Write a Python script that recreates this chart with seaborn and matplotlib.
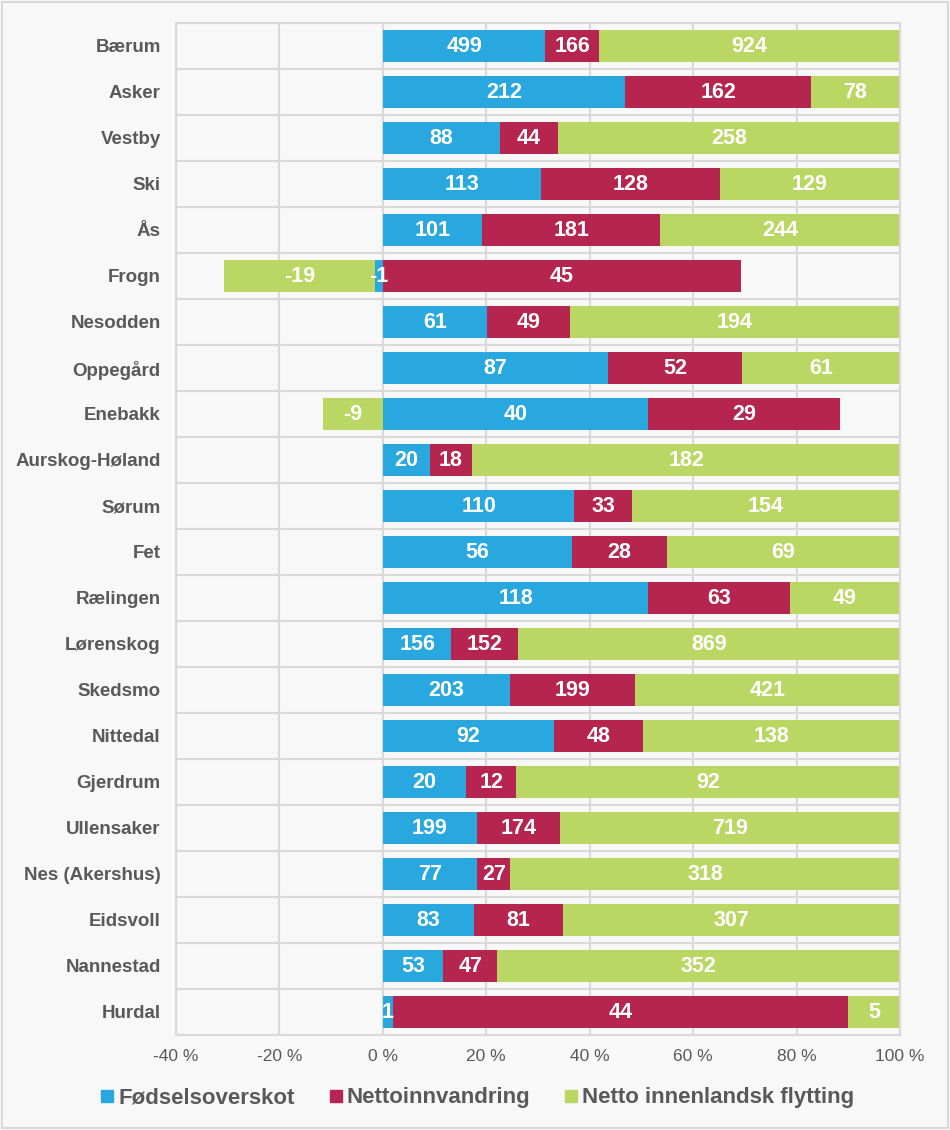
import numpy as np
import pandas as pd
import matplotlib
matplotlib.use("Agg")
import matplotlib.pyplot as plt
import seaborn as sns
from matplotlib.patches import Rectangle
from matplotlib.lines import Line2D

categories = ["Bærum", "Asker", "Vestby", "Ski", "Ås", "Frogn", "Nesodden", "Oppegård",
              "Enebakk", "Aurskog-Høland", "Sørum", "Fet", "Rælingen", "Lørenskog",
              "Skedsmo", "Nittedal", "Gjerdrum", "Ullensaker", "Nes (Akershus)",
              "Eidsvoll", "Nannestad", "Hurdal"]
fodsel = [499, 212, 88, 113, 101, -1, 61, 87, 40, 20, 110, 56, 118, 156, 203, 92, 20, 199, 77, 83, 53, 1]
innvandring = [166, 162, 44, 128, 181, 45, 49, 52, 29, 18, 33, 28, 63, 152, 199, 48, 12, 174, 27, 81, 47, 44]
flytting = [924, 78, 258, 129, 244, -19, 194, 61, -9, 182, 154, 69, 49, 869, 421, 138, 92, 719, 318, 307, 352, 5]
series_names = ["Fødselsoverskot", "Nettoinnvandring", "Netto innenlandsk flytting"]
colors = ["#29A8E0", "#B5254F", "#BAD764"]
xticks = [-40, -20, 0, 20, 40, 60, 80, 100]

sns.set_theme(style="white")
plt.rcParams['font.family'] = ['Liberation Sans', 'DejaVu Sans']

vals = np.array([fodsel, innvandring, flytting], dtype=float)
tot = np.abs(vals).sum(axis=0)
pct = vals / tot * 100

bg = "#F8F8F8"
fig = plt.figure(figsize=(9.5, 11.3), dpi=100, facecolor=bg)
ax = fig.add_axes([176/950, 95/1130, (900-176)/950, (1035-23)/1130])
ax.set_facecolor(bg)

# cumulative ends, positive and negative stacks
pos = np.clip(pct, 0, None)
neg = np.clip(pct, None, 0)
pos_cum = np.cumsum(pos, axis=0)
neg_cum = np.cumsum(neg, axis=0)
pos_start = pos_cum - pos
neg_start = neg_cum - neg

# overdraw from outermost to innermost
for i in [2, 1, 0]:
    df = pd.DataFrame({"cat": categories, "end": pos_cum[i]})
    sns.barplot(data=df, x="end", y="cat", orient="h", color=colors[i], saturation=1,
                width=0.7, ax=ax, linewidth=0, zorder=2)
    dfn = pd.DataFrame({"cat": categories, "end": neg_cum[i]})
    sns.barplot(data=dfn, x="end", y="cat", orient="h", color=colors[i], saturation=1,
                width=0.7, ax=ax, linewidth=0, zorder=2)

# labels
for i in range(3):
    for j in range(len(categories)):
        v = vals[i, j]
        if v >= 0:
            c = pos_start[i, j] + pos[i, j] / 2
        else:
            c = neg_start[i, j] + neg[i, j] / 2
        ax.text(c, j, f"{int(v)}", ha="center", va="center", color="white",
                fontsize=15.5, fontweight="bold", zorder=5)

ax.set_xlim(-40, 100)
ax.set_ylim(len(categories) - 0.5, -0.5)
ax.set_xticks(xticks)
ax.set_xticklabels([f"{t} %" for t in xticks], color="#595959", fontsize=12.5)
ax.set_yticks(range(len(categories)))
ax.set_yticklabels(categories, color="#595959", fontsize=13.5, fontweight="bold")
ax.set_yticks(np.arange(-0.5, len(categories), 1), minor=True)
ax.tick_params(axis="both", which="both", length=0)
ax.tick_params(axis="y", pad=11)
ax.tick_params(axis="x", pad=10)
ax.set_xlabel("")
ax.set_ylabel("")
ax.set_axisbelow(True)
ax.grid(axis="x", which="major", color="#D9D9D9", linewidth=1.5)
ax.grid(axis="y", which="minor", color="#D9D9D9", linewidth=1.5)
ax.grid(axis="y", which="major", visible=False)
for s in ax.spines.values():
    s.set_color("#D9D9D9")
    s.set_linewidth(1.5)

handles = [Line2D([0], [0], marker="s", linestyle="", markersize=8, color=c) for c in colors]
leg = fig.legend(handles, series_names, loc="center", bbox_to_anchor=(478/950, 1 - 1098/1130),
                 ncol=3, frameon=False, handlelength=0.5, handletextpad=0.25, columnspacing=1.6,
                 prop={"size": 16, "weight": "bold"})
for t in leg.get_texts():
    t.set_color("#595959")

fig.patches.append(Rectangle((0.002, 0.002), 0.996, 0.996, transform=fig.transFigure,
                             fill=False, edgecolor="#D9D9D9", linewidth=1.5))

fig.savefig("out.png", dpi=100, facecolor=bg)
